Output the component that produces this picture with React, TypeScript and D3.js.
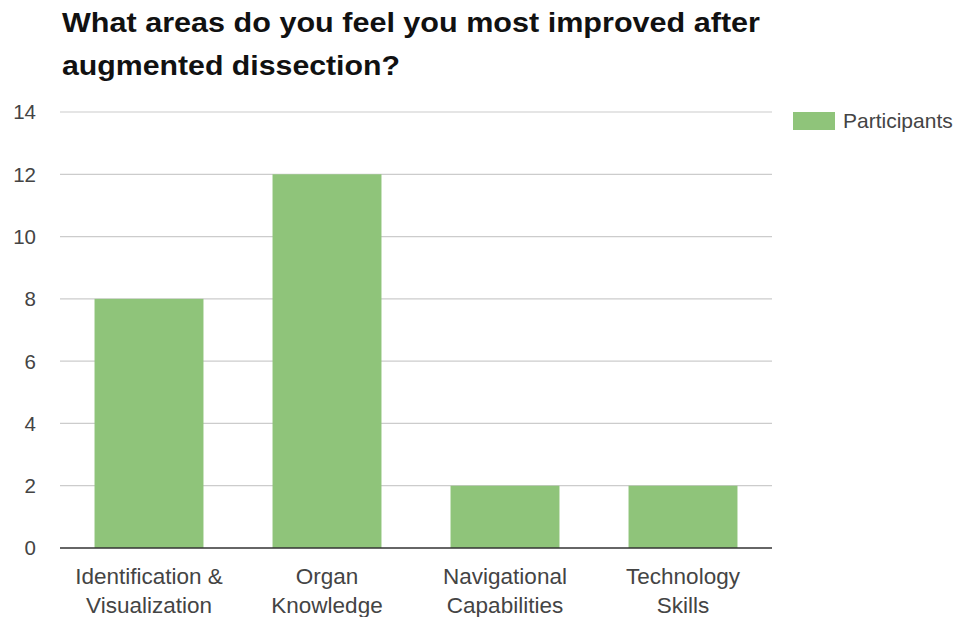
import React from "react";
import * as d3 from "d3";

const categories: string[][] = [
  ["Identification &", "Visualization"],
  ["Organ", "Knowledge"],
  ["Navigational", "Capabilities"],
  ["Technology", "Skills"],
];
const participants: number[] = [8, 12, 2, 2];
const yTicks: number[] = [0, 2, 4, 6, 8, 10, 12, 14];
const titleLines: string[] = [
  "What areas do you feel you most improved after",
  "augmented dissection?",
];
const titleWidths: number[] = [698, 338];
const seriesName = "Participants";

const W = 959;
const H = 617;
const plot = { left: 60, right: 772, top: 112, bottom: 548 };
const font = "'Liberation Sans', Arial, sans-serif";
const barColor = "#8fc47a";

export default function App() {
  const keys = categories.map((c) => c.join(" "));
  const x = d3
    .scaleBand<string>()
    .domain(keys)
    .range([plot.left, plot.right])
    .paddingInner(0.388)
    .paddingOuter(0.194);
  const y = d3.scaleLinear().domain([0, 14]).range([plot.bottom, plot.top]);

  return (
    <svg
      width={W}
      height={H}
      style={{ position: "absolute", left: 0, top: 0, background: "#fff" }}
      fontFamily={font}
    >
      <rect width={W} height={H} fill="#fff" />
      {titleLines.map((t, i) => (
        <text
          key={i}
          x={62}
          y={31.5 + i * 43}
          fontSize={27}
          fontWeight="bold"
          fill="#111"
          textLength={titleWidths[i]}
          lengthAdjust="spacingAndGlyphs"
        >
          {t}
        </text>
      ))}
      {yTicks.map((t) => (
        <g key={t}>
          {t !== 0 && (
            <line
              x1={plot.left}
              x2={plot.right}
              y1={y(t)}
              y2={y(t)}
              stroke="#cccccc"
              strokeWidth={1.2}
            />
          )}
          <text
            x={36}
            y={y(t)}
            dy="0.36em"
            textAnchor="end"
            fontSize={20.5}
            fill="#444"
          >
            {t}
          </text>
        </g>
      ))}
      {participants.map((v, i) => (
        <rect
          key={keys[i]}
          x={x(keys[i])}
          y={y(v)}
          width={x.bandwidth()}
          height={y(0) - y(v)}
          fill={barColor}
        />
      ))}
      <line
        x1={plot.left}
        x2={plot.right}
        y1={y(0)}
        y2={y(0)}
        stroke="#333"
        strokeWidth={1.5}
      />
      {categories.map((lines, i) => (
        <text
          key={keys[i]}
          x={(x(keys[i]) as number) + x.bandwidth() / 2}
          textAnchor="middle"
          fontSize={22.5}
          fill="#444"
        >
          {lines.map((l, j) => (
            <tspan key={j} x={(x(keys[i]) as number) + x.bandwidth() / 2} y={584 + j * 28.5}>
              {l}
            </tspan>
          ))}
        </text>
      ))}
      <rect x={793} y={112} width={42} height={18} fill={barColor} />
      <text x={843} y={127.5} fontSize={21} fill="#444">
        {seriesName}
      </text>
    </svg>
  );
}
